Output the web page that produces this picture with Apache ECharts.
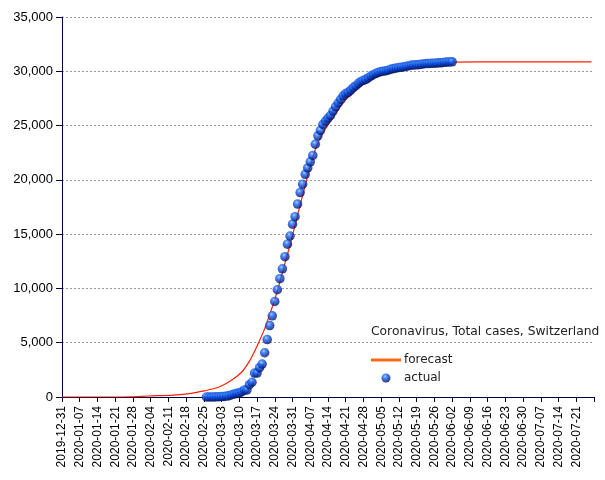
<!DOCTYPE html>
<html>
<head>
<meta charset="utf-8">
<script src="https://cdn.jsdelivr.net/npm/echarts@6/dist/echarts.min.js"></script>
<style>html,body{margin:0;padding:0;background:#fff}#c{width:605px;height:480px}</style>
</head>
<body>
<div id="c"></div>
<script>
const startDate = '2019-12-31';
const actualStart = '2020-02-26';
const actualValues = [1,1,8,8,18,27,42,56,90,114,214,268,337,374,491,652,652,1139,1359,2200,2200,2700,3028,4075,5294,6575,7474,8795,9877,10897,11811,12928,14076,14829,15922,16605,17768,18827,19606,20505,21100,21657,22253,23280,24051,24551,25107,25415,25688,25936,26336,26732,27078,27404,27740,27944,28063,28268,28496,28677,28894,29061,29164,29264,29407,29586,29705,29817,29905,29981,30009,30060,30126,30207,30251,30305,30344,30380,30413,30463,30514,30572,30587,30597,30618,30658,30694,30707,30725,30736,30746,30761,30776,30796,30828,30845,30862,30871];
const forecastDates = ['2019-12-31','2020-01-20','2020-01-27','2020-02-03','2020-02-13','2020-02-20','2020-02-25','2020-03-02','2020-03-07','2020-03-11','2020-03-14','2020-03-16','2020-03-18','2020-03-20','2020-03-22','2020-03-24','2020-03-26','2020-03-28','2020-03-30','2020-04-01','2020-04-03','2020-04-05','2020-04-07','2020-04-09','2020-04-11','2020-04-13','2020-04-15','2020-04-19','2020-04-24','2020-04-29','2020-05-04','2020-05-09','2020-05-14','2020-05-19','2020-05-24','2020-05-29','2020-06-03','2020-06-13','2020-07-27'];
const forecastValues = [0,0,20,90,180,330,560,920,1560,2300,3300,4200,5200,6300,7600,9000,10600,12300,14000,15800,17700,19500,21300,22800,23900,24700,25400,26800,28100,29000,29600,30050,30350,30580,30720,30800,30850,30868,30872];

const DAY = 86400000;
const t0 = Date.parse(startDate);
function dayIndex(s){ return Math.round((Date.parse(s) - t0) / DAY); }
function dayLabel(d){
  const dt = new Date(t0 + d * DAY);
  const m = String(dt.getUTCMonth() + 1).padStart(2, '0');
  const dd = String(dt.getUTCDate()).padStart(2, '0');
  return dt.getUTCFullYear() + '-' + m + '-' + dd;
}
const a0 = dayIndex(actualStart);
const actualData = actualValues.map((v, i) => [a0 + i, v]);
const forecastData = forecastDates.map((s, i) => [dayIndex(s), forecastValues[i]]);

const sphere = {
  type: 'radial', x: 0.4, y: 0.32, r: 0.72,
  colorStops: [
    {offset: 0, color: '#9ad2ff'},
    {offset: 0.22, color: '#2f7cf5'},
    {offset: 0.55, color: '#0a3fd0'},
    {offset: 1, color: '#00093a'}
  ]
};

const chart = echarts.init(document.getElementById('c'), null, {renderer: 'canvas'});
chart.setOption({
  animation: false,
  backgroundColor: '#fff',
  title: {
    text: 'Coronavirus, Total cases, Switzerland',
    left: 371, top: 326, padding: 0,
    textStyle: {fontFamily: 'DejaVu Sans', fontSize: 12.3, fontWeight: 'normal', color: '#222'}
  },
  legend: {
    left: 371, top: 354, orient: 'vertical', padding: 0,
    itemWidth: 30, itemHeight: 9, itemGap: 6,
    textStyle: {fontFamily: 'DejaVu Sans', fontSize: 12, color: '#222', padding: [0,0,0,-2]},
    data: [
      {name: 'forecast', icon: 'path://M0,0 L30,0 L30,3 L0,3 Z', itemStyle: {color: '#ff6a10'}},
      {name: 'actual', icon: 'circle'}
    ]
  },
  grid: {left: 62, right: 11, top: 17, bottom: 83, containLabel: false},
  xAxis: {
    type: 'value', min: 0, max: 210, interval: 7,
    axisLine: {show: true, lineStyle: {color: '#000040', width: 1}},
    axisTick: {show: true, length: 5, lineStyle: {color: '#000040'}},
    splitLine: {show: false},
    axisLabel: {
      rotate: 90, margin: 9, color: '#000',
      fontFamily: 'Liberation Sans, Arial, sans-serif', fontSize: 12,
      formatter: v => (v % 7 === 0 && v < 210) ? dayLabel(v) : ''
    }
  },
  yAxis: {
    type: 'value', min: 0, max: 35000, interval: 5000,
    axisLine: {show: true, lineStyle: {color: '#000040', width: 1}},
    axisTick: {show: true, length: 6, lineStyle: {color: '#000040'}},
    splitLine: {show: true, lineStyle: {color: '#999', type: [2, 2], width: 1}},
    axisLabel: {
      margin: 9, color: '#000',
      fontFamily: 'Liberation Sans, Arial, sans-serif', fontSize: 13,
      formatter: v => v.toLocaleString('en-US')
    }
  },
  series: [
    {
      name: 'forecast', type: 'line', data: forecastData,
      showSymbol: false, symbol: 'none', smooth: 0.3,
      lineStyle: {color: '#ff2000', width: 1.2},
      itemStyle: {color: '#ff6a10'}, z: 2
    },
    {
      name: 'actual', type: 'scatter', data: actualData,
      symbol: 'circle', symbolSize: 9.5,
      itemStyle: {color: sphere}, z: 3
    }
  ]
});
</script>
</body>
</html>
